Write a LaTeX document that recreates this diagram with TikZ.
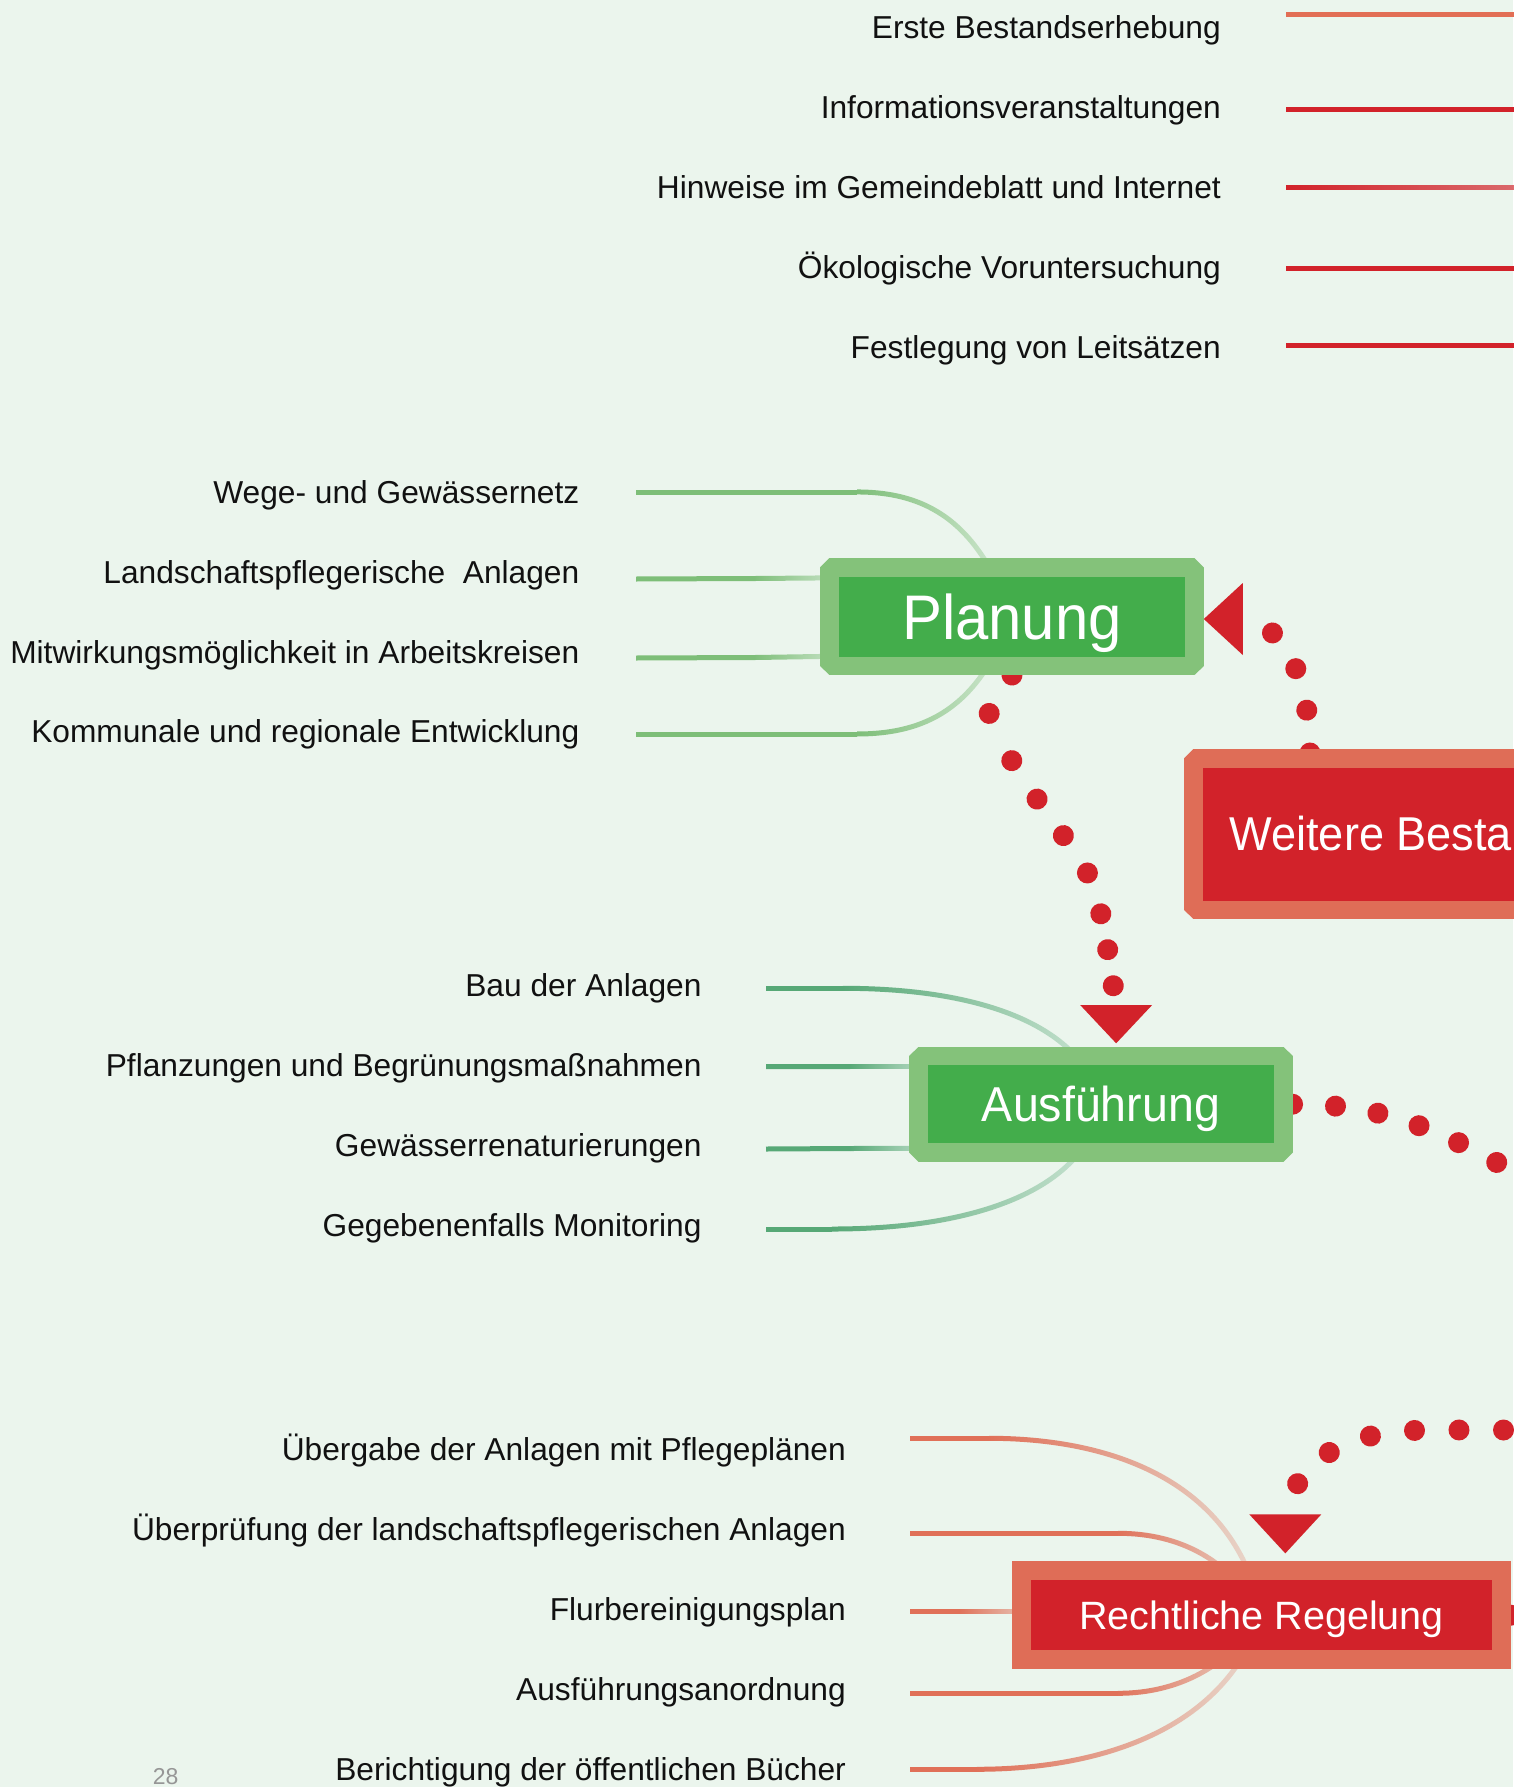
\documentclass[tikz,border=0pt]{standalone}
\usepackage{fontspec}
\setmainfont{Liberation Sans}
\newfontfamily\titlefont[FakeStretch=0.95]{Liberation Sans}
\usetikzlibrary{calc,fadings}
\definecolor{paper}{RGB}{235,245,237}
\definecolor{gOuter}{RGB}{132,194,122}
\definecolor{gInner}{RGB}{67,173,75}
\definecolor{rOuter}{RGB}{223,109,87}
\definecolor{rInner}{RGB}{210,34,42}
\definecolor{gLineA}{RGB}{125,190,120}
\definecolor{gLineB}{RGB}{86,168,118}
\definecolor{oLine}{RGB}{224,112,88}
\definecolor{oTop}{RGB}{226,110,85}
\definecolor{labeltext}{RGB}{17,17,17}
\definecolor{pgray}{RGB}{150,150,150}
\pgfdeclarelayer{paperlayer}
\pgfdeclarelayer{links}
\pgfsetlayers{paperlayer,links,main}
\tikzfading[name=fadeR, left color=transparent!0, right color=transparent!80]
\tikzfading[name=fadeTop, left color=transparent!0, right color=transparent!35]
\begin{document}
\begin{tikzpicture}[x=1pt,y=-1pt,
  lbl/.style={anchor=base east, inner sep=0pt, text=labeltext, font=\fontsize{31.7pt}{38pt}\selectfont},
  gbox/.style={rectangle, draw=gOuter, fill=gInner, line width=18.5pt, line join=bevel, inner sep=0pt, text=white},
  rbox/.style={rectangle, draw=rOuter, fill=rInner, inner sep=0pt, text=white},
  dotc/.style={draw=rInner, line width=21pt, line cap=round, dash pattern=on 0.01pt off 43pt},
  lineP/.style={draw=gLineA, line width=5pt},
  lineA/.style={draw=gLineB, line width=5pt},
  lineR/.style={draw=oLine, line width=5pt},
  topline/.style={line width=5.5pt},
  fadeend/.style={path fading=fadeR}]

\begin{pgfonlayer}{paperlayer}
\fill[paper] (0,0) rectangle (1513,1787);
\end{pgfonlayer}
\useasboundingbox (0,0) rectangle (1513,1787);

% ---- main boxes
\node[gbox, minimum width=365.1pt, minimum height=98.2pt,
      font=\titlefont\fontsize{63pt}{70pt}\selectfont, text height=45pt, text depth=0pt]
      (planung) at (1012,616.7) {Planung};
\node[gbox, minimum width=364.6pt, minimum height=96.5pt,
      font=\titlefont\fontsize{49pt}{55pt}\selectfont, text height=35pt, text depth=0pt]
      (ausf) at (1101,1104.2) {Ausführung};
\node[rbox, line width=19pt, minimum width=479.6pt, minimum height=89.3pt,
      font=\fontsize{39.5pt}{45pt}\selectfont, text height=28.3pt, text depth=0pt]
      (rechtl) at (1261.7,1615.2) {Rechtliche Regelung};
\node[rbox, line width=18.4pt, line join=bevel, minimum width=481.6pt, minimum height=151.6pt]
      (weitere) at (1434.3,834.3) {};
\node[anchor=base west, inner sep=0pt, text=white, font=\titlefont\fontsize{47.5pt}{53pt}\selectfont]
      (weiteretxt) at (1229.3,850) {Weitere Besta};

% ---- arrow heads
\fill[rInner] ($(planung.east)+(0,2.3)$) -- ++(39,-36) -- ++(0,72) -- cycle;
\fill[rInner] ($(ausf.north west)+(206.7,-3.4)$) -- ++(-36,-38.3) -- ++(72,0) -- cycle;
\fill[rInner] ($(rechtl.north west)+(272.9,-7.7)$) -- ++(-36,-39) -- ++(72,0) -- cycle;

% ---- labels
\node[lbl] (t1) at (1221,39) {Erste Bestandserhebung};
\node[lbl] (t2) at (1221,119) {Informationsveranstaltungen};
\node[lbl] (t3) at (1221,199) {Hinweise im Gemeindeblatt und Internet};
\node[lbl] (t4) at (1221,278.5) {Ökologische Voruntersuchung};
\node[lbl] (t5) at (1221,358) {Festlegung von Leitsätzen};

\node[lbl] (p1) at (579.5,503.3) {Wege- und Gewässernetz};
\node[lbl] (p2) at (579.5,583.3) {Landschaftspflegerische~~Anlagen};
\node[lbl] (p3) at (579.5,663.3) {Mitwirkungsmöglichkeit in Arbeitskreisen};
\node[lbl] (p4) at (579.5,742) {Kommunale und regionale Entwicklung};

\node[lbl] (a1) at (701.7,996) {Bau der Anlagen};
\node[lbl] (a2) at (701.7,1076) {Pflanzungen und Begrünungsmaßnahmen};
\node[lbl] (a3) at (701.7,1156) {Gewässerrenaturierungen};
\node[lbl] (a4) at (701.7,1236) {Gegebenenfalls Monitoring};

\node[lbl] (r1) at (846,1460) {Übergabe der Anlagen mit Pflegeplänen};
\node[lbl] (r2) at (846,1540) {Überprüfung der landschaftspflegerischen Anlagen};
\node[lbl] (r3) at (846,1620) {Flurbereinigungsplan};
\node[lbl] (r4) at (846,1700) {Ausführungsanordnung};
\node[lbl] (r5) at (846,1780) {Berichtigung der öffentlichen Bücher};

\node[anchor=base west, inner sep=0pt, text=pgray, font=\fontsize{23pt}{26pt}\selectfont]
      (pagenum) at (152.7,1784.5) {28};

% ---- connectors
\begin{pgfonlayer}{links}
% top branches
\coordinate (t1s) at (1286,14.3);  \coordinate (t1e) at (1520,14.3);
\coordinate (t2s) at (1286,109.3); \coordinate (t2e) at (1520,109.3);
\coordinate (t3s) at (1286,187.7); \coordinate (t3e) at (1520,187.7);
\coordinate (t4s) at (1286,268.7); \coordinate (t4e) at (1520,268.7);
\coordinate (t5s) at (1286,345.7); \coordinate (t5e) at (1520,345.7);
\draw[topline, draw=oTop] (t1s) -- (t1e);
\draw[topline, draw=rInner] (t2s) -- (t2e);
\draw[topline, draw=rInner, path fading=fadeTop] (t3s) -- (t3e);
\draw[topline, draw=rInner] (t4s) -- (t4e);
\draw[topline, draw=rInner] (t5s) -- (t5e);

% Planung branches
\coordinate (p1s) at (636,492);   \coordinate (p1k) at (857,492);
\coordinate (p2s) at (636,579);   \coordinate (p2k) at (755,578.5);
\coordinate (p3s) at (636,658);   \coordinate (p3k) at (755,657.5);
\coordinate (p4s) at (636,734);   \coordinate (p4k) at (857,734);
\draw[lineP] (p1s) -- (p1k);
\draw[lineP, fadeend] (p1k) .. controls (935,492) and (980,530) .. (planung.center);
\draw[lineP] (p2s) -- (p2k);
\draw[lineP, fadeend] (p2k) -- ($(planung.west)+(30,-39)$);
\draw[lineP] (p3s) -- (p3k);
\draw[lineP, fadeend] (p3k) -- ($(planung.west)+(30,39.3)$);
\draw[lineP] (p4s) -- (p4k);
\draw[lineP, fadeend] (p4k) .. controls (935,734) and (980,700) .. (planung.center);

% Ausfuehrung branches
\coordinate (a1s) at (766,988.3);  \coordinate (a1k) at (843,988.3);
\coordinate (a2s) at (766,1066.7); \coordinate (a2k) at (850,1066.5);
\coordinate (a3s) at (766,1149);   \coordinate (a3k) at (850,1148.5);
\coordinate (a4s) at (766,1229);   \coordinate (a4k) at (832,1229);
\draw[lineA] (a1s) -- (a1k);
\draw[lineA, fadeend] (a1k) .. controls (990,988.3) and (1085,1030) .. (ausf.center);
\draw[lineA] (a2s) -- (a2k);
\draw[lineA, fadeend] (a2k) -- ($(ausf.west)+(30,-37.7)$);
\draw[lineA] (a3s) -- (a3k);
\draw[lineA, fadeend] (a3k) -- ($(ausf.west)+(30,44)$);
\draw[lineA] (a4s) -- (a4k);
\draw[lineA, fadeend] (a4k) .. controls (985,1229) and (1088,1185) .. (ausf.center);

% Rechtliche Regelung branches
\coordinate (r1s) at (910,1438.3); \coordinate (r1k) at (989,1438.3);
\coordinate (r2s) at (910,1533.3); \coordinate (r2k) at (1118,1533.3);
\coordinate (r3s) at (910,1611.7); \coordinate (r3k) at (960,1611.7);
\coordinate (r4s) at (910,1693.3); \coordinate (r4k) at (1118,1693.3);
\coordinate (r5s) at (910,1769.3); \coordinate (r5k) at (977,1769.3);
\draw[lineR] (r1s) -- (r1k);
\draw[lineR, fadeend] (r1k) .. controls (1110,1438.3) and (1235,1480) .. (rechtl.center);
\draw[lineR] (r2s) -- (r2k);
\draw[lineR, fadeend] (r2k) .. controls (1180,1533.3) and (1230,1560) .. (rechtl.center);
\draw[lineR] (r3s) -- (r3k);
\draw[lineR, fadeend] (r3k) -- ($(rechtl.west)+(30,-3.5)$);
\draw[lineR] (r4s) -- (r4k);
\draw[lineR, fadeend] (r4k) .. controls (1180,1693.3) and (1230,1665) .. (rechtl.center);
\draw[lineR] (r5s) -- (r5k);
\draw[lineR, fadeend] (r5k) .. controls (1100,1769.3) and (1225,1730) .. (rechtl.center);

% dotted process connectors
\coordinate (bA) at (planung.south);
\coordinate (bB) at ($(ausf.north west)+(206.7,-41.7)$);
\coordinate (cC) at (1560,1200);
\coordinate (cD) at (1548,1430);
\coordinate (dB) at ($(rechtl.north west)+(272.9,-46.7)$);
\coordinate (cE) at (1600,1615);
\draw[dotc] ($(weitere.north west)+(125.7,3.7)$) .. controls (1310,690) and (1290,625) .. ($(planung.east)+(39,2.3)$);
\draw[dotc, dash pattern=on 0.01pt off 45pt on 0.01pt off 53pt on 0.01pt off 46pt on 0.01pt off 45pt on 0.01pt off 44.5pt on 0.01pt off 43pt on 0.01pt off 36.5pt on 0.01pt off 36.5pt on 0.01pt off 300pt]
      plot[smooth, tension=0.5] coordinates
      {(bA) (989,715) (1012,761) (1037,799) (1063,835) (1087,872) (1100.5,912.6) (1107.4,948) (1113,984) (bB)};
\draw[dotc] (ausf.east) .. controls (1380,1104) and (1440,1125) .. (cC);
\draw[dotc, dash pattern=on 0.01pt off 44.5pt] plot[smooth, tension=0.5] coordinates
      {(cD) (1506,1430) (1464,1430) (1422,1430) (1374.5,1435) (1330,1452) (1296.6,1485) (dB)};
\draw[dotc] (rechtl.east) -- (cE);
\end{pgfonlayer}
\end{tikzpicture}
\end{document}
